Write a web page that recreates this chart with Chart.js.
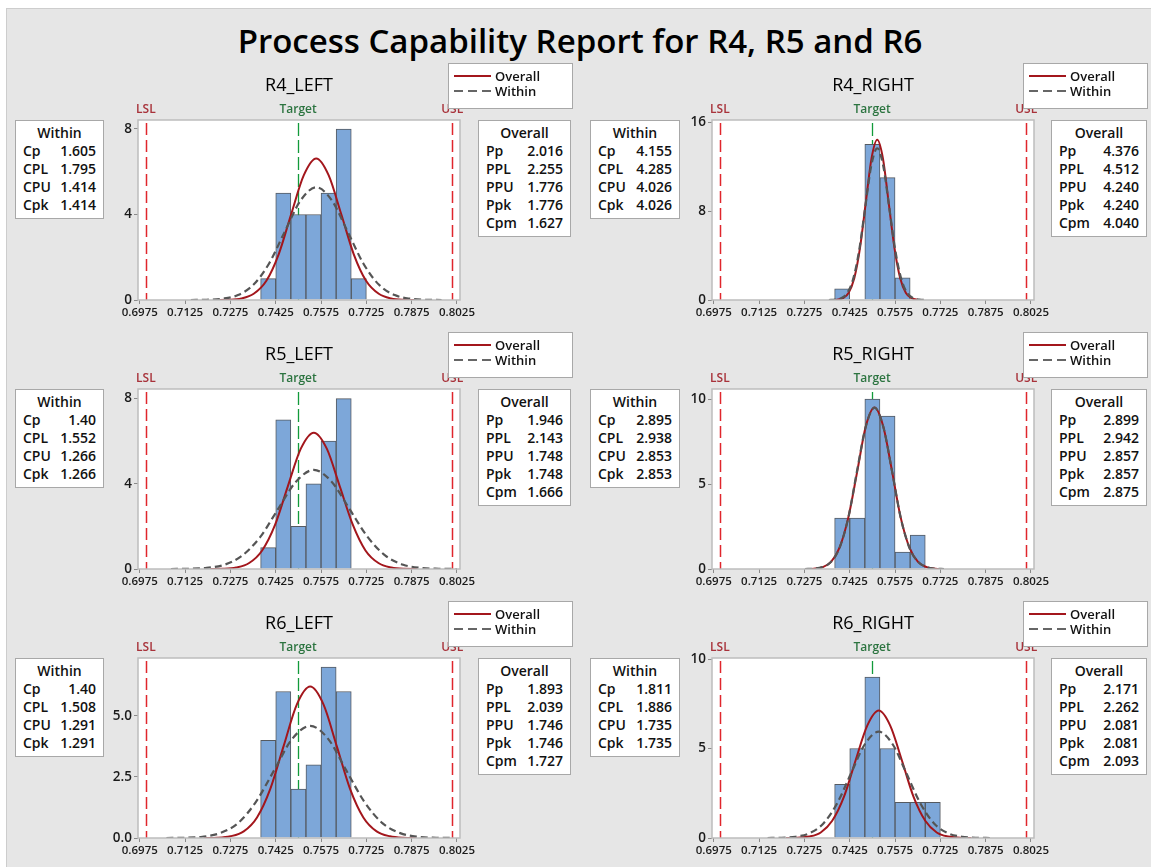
<!DOCTYPE html>
<html>
<head>
<meta charset="utf-8">
<title>Process Capability Report for R4, R5 and R6</title>
<script src="https://cdn.jsdelivr.net/npm/chart.js@4.4.1/dist/chart.umd.min.js"></script>
<style>
    body { margin: 0; width: 1151px; height: 867px; background: #fff; font-family: "Open Sans", sans-serif; overflow: hidden; position: relative; }
    #frame { position: absolute; left: 6px; top: 8px; width: 1145px; height: 859px; background: #e6e6e6; border-left: 1px solid #cdcdcd; border-top: 1px solid #cdcdcd; box-sizing: border-box; }
    #title { position: absolute; left: 0; top: 21px; width: 1160px; text-align: center; font-size: 33px; line-height: 40px; font-weight: 600; color: #000; }
    canvas { position: absolute; }
    .ptitle { position: absolute; width: 322px; text-align: center; font-size: 18px; line-height: 24px; color: #000; }
    .box { position: absolute; background: #fff; border: 1px solid #a8a8a8; box-sizing: border-box; padding: 3px 7px 4px 7px; font-size: 14px; font-weight: 600; line-height: 18px; color: #111; }
    .box .hd { text-align: center; }
    .box .row { display: flex; justify-content: space-between; }
    .legend { position: absolute; width: 125px; height: 46px; background: #fff; border: 1px solid #a8a8a8; box-sizing: border-box; font-size: 13px; font-weight: 600; color: #111; }
    .legend svg { position: absolute; left: 3px; top: 3px; }
    .legend span { position: absolute; left: 46px; line-height: 16px; }
</style>
</head>
<body>
<div id="frame"></div>
<div id="title">Process Capability Report for R4, R5 and R6</div>
<script>
// Histogram bins (bin centres, width 0.005)
const binCentres = [0.740, 0.745, 0.750, 0.755, 0.760, 0.765, 0.770];
const r4LeftCounts  = [1, 5, 4, 4, 5, 8, 1];
const r4RightCounts = [1, 0, 14, 11, 2, 0, 0];
const r5LeftCounts  = [1, 7, 2, 4, 6, 8, 0];
const r5RightCounts = [3, 3, 10, 9, 1, 2, 0];
const r6LeftCounts  = [4, 6, 2, 3, 7, 6, 0];
const r6RightCounts = [3, 5, 9, 5, 2, 2, 2];

// Fitted curves (x, frequency)
const r4LeftOverallX  = [0.7228, 0.7270, 0.7311, 0.7352, 0.7394, 0.7435, 0.7476, 0.7518, 0.7559, 0.7600, 0.7642, 0.7683, 0.7724, 0.7766, 0.7807, 0.7848, 0.7890];
const r4LeftOverallY  = [0.00, 0.01, 0.07, 0.29, 0.90, 2.15, 4.01, 5.84, 6.62, 5.84, 4.01, 2.15, 0.90, 0.29, 0.07, 0.01, 0.00];
const r4LeftWithinX   = [0.7144, 0.7196, 0.7248, 0.7300, 0.7351, 0.7403, 0.7455, 0.7507, 0.7559, 0.7611, 0.7663, 0.7715, 0.7767, 0.7819, 0.7870, 0.7922, 0.7974];
const r4LeftWithinY   = [0.00, 0.01, 0.06, 0.23, 0.71, 1.71, 3.20, 4.65, 5.27, 4.65, 3.20, 1.71, 0.71, 0.23, 0.06, 0.01, 0.00];
const r4RightOverallX = [0.7364, 0.7383, 0.7402, 0.7421, 0.7440, 0.7459, 0.7478, 0.7497, 0.7516, 0.7535, 0.7554, 0.7573, 0.7592, 0.7611, 0.7630, 0.7649, 0.7668];
const r4RightOverallY = [0.00, 0.03, 0.16, 0.63, 1.95, 4.68, 8.73, 12.71, 14.40, 12.71, 8.73, 4.68, 1.95, 0.63, 0.16, 0.03, 0.00];
const r4RightWithinX  = [0.7356, 0.7376, 0.7396, 0.7416, 0.7436, 0.7456, 0.7476, 0.7496, 0.7516, 0.7536, 0.7556, 0.7576, 0.7596, 0.7616, 0.7636, 0.7656, 0.7676];
const r4RightWithinY  = [0.00, 0.03, 0.15, 0.60, 1.85, 4.43, 8.27, 12.04, 13.64, 12.04, 8.27, 4.43, 1.85, 0.60, 0.15, 0.03, 0.00];
const r5LeftOverallX  = [0.7208, 0.7251, 0.7294, 0.7337, 0.7380, 0.7423, 0.7465, 0.7508, 0.7551, 0.7594, 0.7637, 0.7680, 0.7722, 0.7765, 0.7808, 0.7851, 0.7894];
const r5LeftOverallY  = [0.00, 0.01, 0.07, 0.28, 0.87, 2.08, 3.88, 5.65, 6.40, 5.65, 3.88, 2.08, 0.87, 0.28, 0.07, 0.01, 0.00];
const r5LeftWithinX   = [0.7078, 0.7137, 0.7196, 0.7255, 0.7314, 0.7374, 0.7433, 0.7492, 0.7551, 0.7610, 0.7669, 0.7729, 0.7788, 0.7847, 0.7906, 0.7965, 0.8024];
const r5LeftWithinY   = [0.00, 0.01, 0.05, 0.20, 0.63, 1.51, 2.82, 4.10, 4.65, 4.10, 2.82, 1.51, 0.63, 0.20, 0.05, 0.01, 0.00];
const r5RightOverallX = [0.7277, 0.7306, 0.7335, 0.7363, 0.7392, 0.7421, 0.7450, 0.7478, 0.7507, 0.7536, 0.7565, 0.7593, 0.7622, 0.7651, 0.7680, 0.7708, 0.7737];
const r5RightOverallY = [0.00, 0.02, 0.11, 0.42, 1.29, 3.08, 5.76, 8.38, 9.50, 8.38, 5.76, 3.08, 1.29, 0.42, 0.11, 0.02, 0.00];
const r5RightWithinX  = [0.7277, 0.7305, 0.7334, 0.7363, 0.7392, 0.7421, 0.7449, 0.7478, 0.7507, 0.7536, 0.7565, 0.7593, 0.7622, 0.7651, 0.7680, 0.7709, 0.7737];
const r5RightWithinY  = [0.00, 0.02, 0.11, 0.42, 1.28, 3.08, 5.76, 8.37, 9.49, 8.37, 5.76, 3.08, 1.28, 0.42, 0.11, 0.02, 0.00];
const r6LeftOverallX  = [0.7187, 0.7231, 0.7275, 0.7319, 0.7363, 0.7407, 0.7451, 0.7495, 0.7539, 0.7583, 0.7627, 0.7671, 0.7715, 0.7759, 0.7803, 0.7847, 0.7891];
const r6LeftOverallY  = [0.00, 0.01, 0.07, 0.27, 0.84, 2.01, 3.76, 5.47, 6.20, 5.47, 3.76, 2.01, 0.84, 0.27, 0.07, 0.01, 0.00];
const r6LeftWithinX   = [0.7063, 0.7122, 0.7182, 0.7241, 0.7301, 0.7360, 0.7420, 0.7479, 0.7539, 0.7599, 0.7658, 0.7718, 0.7777, 0.7837, 0.7896, 0.7956, 0.8015];
const r6LeftWithinY   = [0.00, 0.01, 0.05, 0.20, 0.62, 1.49, 2.78, 4.05, 4.59, 4.05, 2.78, 1.49, 0.62, 0.20, 0.05, 0.01, 0.00];
const r6RightOverallX = [0.7214, 0.7252, 0.7291, 0.7329, 0.7367, 0.7406, 0.7444, 0.7483, 0.7521, 0.7559, 0.7598, 0.7636, 0.7675, 0.7713, 0.7751, 0.7790, 0.7828];
const r6RightOverallY = [0.00, 0.02, 0.08, 0.31, 0.96, 2.31, 4.32, 6.28, 7.12, 6.28, 4.32, 2.31, 0.96, 0.31, 0.08, 0.02, 0.00];
const r6RightWithinX  = [0.7153, 0.7199, 0.7245, 0.7291, 0.7337, 0.7383, 0.7429, 0.7475, 0.7521, 0.7567, 0.7613, 0.7659, 0.7705, 0.7751, 0.7797, 0.7843, 0.7889];
const r6RightWithinY  = [0.00, 0.01, 0.07, 0.26, 0.80, 1.93, 3.60, 5.24, 5.94, 5.24, 3.60, 1.93, 0.80, 0.26, 0.07, 0.01, 0.00];

// Spec limits (positions) and axes
const LSL = 0.6995, TARGET = 0.7499, USL = 0.8009;
const xTicks = [0.6975, 0.7125, 0.7275, 0.7425, 0.7575, 0.7725, 0.7875, 0.8025];
const r4LeftYTicks  = [0, 4, 8];
const r4RightYTicks = [0, 8, 16];
const r5LeftYTicks  = [0, 4, 8];
const r5RightYTicks = [0, 5, 10];
const r6LeftYTicks  = [0, 2.5, 5];
const r6RightYTicks = [0, 5, 10];
const yMaxes = [8.42, 16.18, 8.45, 10.59, 7.37, 10.06];

// Capability statistics
const withinLabels  = ['Cp', 'CPL', 'CPU', 'Cpk'];
const overallLabels = ['Pp', 'PPL', 'PPU', 'Ppk', 'Cpm'];
const r4LeftWithin   = ['1.605', '1.795', '1.414', '1.414'];
const r4LeftOverall  = ['2.016', '2.255', '1.776', '1.776', '1.627'];
const r4RightWithin  = ['4.155', '4.285', '4.026', '4.026'];
const r4RightOverall = ['4.376', '4.512', '4.240', '4.240', '4.040'];
const r5LeftWithin   = ['1.40', '1.552', '1.266', '1.266'];
const r5LeftOverall  = ['1.946', '2.143', '1.748', '1.748', '1.666'];
const r5RightWithin  = ['2.895', '2.938', '2.853', '2.853'];
const r5RightOverall = ['2.899', '2.942', '2.857', '2.857', '2.875'];
const r6LeftWithin   = ['1.40', '1.508', '1.291', '1.291'];
const r6LeftOverall  = ['1.893', '2.039', '1.746', '1.746', '1.727'];
const r6RightWithin  = ['1.811', '1.886', '1.735', '1.735'];
const r6RightOverall = ['2.171', '2.262', '2.081', '2.081', '2.093'];

const panelNames = ['R4_LEFT', 'R4_RIGHT', 'R5_LEFT', 'R5_RIGHT', 'R6_LEFT', 'R6_RIGHT'];

// Layout
const X_MIN = 0.6969, X_MAX = 0.8035;
const PLOT_W = 322, PLOT_H = 180;
const PAD_L = 40, PAD_T = 30, PAD_R = 26, PAD_B = 26;
const colLeft = [138, 712];
const rowTop = [120, 389, 658];

const panels = [
    { counts: r4LeftCounts,  ox: r4LeftOverallX,  oy: r4LeftOverallY,  wx: r4LeftWithinX,  wy: r4LeftWithinY,  yTicks: r4LeftYTicks,  dec: 0, within: r4LeftWithin,  overall: r4LeftOverall },
    { counts: r4RightCounts, ox: r4RightOverallX, oy: r4RightOverallY, wx: r4RightWithinX, wy: r4RightWithinY, yTicks: r4RightYTicks, dec: 0, within: r4RightWithin, overall: r4RightOverall },
    { counts: r5LeftCounts,  ox: r5LeftOverallX,  oy: r5LeftOverallY,  wx: r5LeftWithinX,  wy: r5LeftWithinY,  yTicks: r5LeftYTicks,  dec: 0, within: r5LeftWithin,  overall: r5LeftOverall },
    { counts: r5RightCounts, ox: r5RightOverallX, oy: r5RightOverallY, wx: r5RightWithinX, wy: r5RightWithinY, yTicks: r5RightYTicks, dec: 0, within: r5RightWithin, overall: r5RightOverall },
    { counts: r6LeftCounts,  ox: r6LeftOverallX,  oy: r6LeftOverallY,  wx: r6LeftWithinX,  wy: r6LeftWithinY,  yTicks: r6LeftYTicks,  dec: 1, within: r6LeftWithin,  overall: r6LeftOverall },
    { counts: r6RightCounts, ox: r6RightOverallX, oy: r6RightOverallY, wx: r6RightWithinX, wy: r6RightWithinY, yTicks: r6RightYTicks, dec: 0, within: r6RightWithin, overall: r6RightOverall }
];

const specPlugin = {
    id: 'spec',
    beforeDraw(chart) {
        const a = chart.chartArea, ctx = chart.ctx;
        ctx.save();
        ctx.fillStyle = '#ffffff';
        ctx.fillRect(a.left, a.top, a.right - a.left, a.bottom - a.top);
        ctx.restore();
    },
    beforeDatasetsDraw(chart) {
        const a = chart.chartArea, ctx = chart.ctx, x = chart.scales.x;
        ctx.save();
        ctx.lineWidth = 1.5;
        ctx.strokeStyle = '#e0262c';
        ctx.setLineDash([12, 5]);
        [LSL, USL].forEach(v => {
            const px = Math.round(x.getPixelForValue(v)) + 0.5;
            ctx.beginPath();
            ctx.moveTo(px, a.top + 3);
            ctx.lineTo(px, a.bottom);
            ctx.stroke();
        });
        ctx.strokeStyle = '#129a3a';
        ctx.lineWidth = 1.3;
        ctx.setLineDash([13, 4]);
        const tx = Math.round(x.getPixelForValue(TARGET)) + 0.5;
        ctx.beginPath();
        ctx.moveTo(tx, a.top + 3);
        ctx.lineTo(tx, a.bottom);
        ctx.stroke();
        ctx.restore();
    },
    afterDatasetsDraw(chart) {
        const a = chart.chartArea, ctx = chart.ctx;
        ctx.save();
        ctx.strokeStyle = '#bdbdbd';
        ctx.lineWidth = 1.5;
        ctx.strokeRect(a.left, a.top, a.right - a.left, a.bottom - a.top);
        ctx.restore();
    },
    afterDraw(chart) {
        const a = chart.chartArea, ctx = chart.ctx, x = chart.scales.x;
        ctx.save();
        ctx.font = '600 12px "Open Sans"';
        ctx.textAlign = 'center';
        ctx.textBaseline = 'middle';
        ctx.fillStyle = '#a8323a';
        ctx.fillText('LSL', x.getPixelForValue(LSL), a.top - 10);
        ctx.fillText('USL', x.getPixelForValue(USL), a.top - 10);
        ctx.fillStyle = '#2c7440';
        ctx.fillText('Target', x.getPixelForValue(TARGET), a.top - 10);
        ctx.restore();
    }
};

function addDiv(cls, left, top, width, html) {
    const d = document.createElement('div');
    d.className = cls;
    d.style.left = left + 'px';
    d.style.top = top + 'px';
    if (width) d.style.width = width + 'px';
    d.innerHTML = html;
    document.body.appendChild(d);
    return d;
}

function statBox(title, labels, values) {
    let html = '<div class="hd">' + title + '</div>';
    labels.forEach((l, i) => {
        html += '<div class="row"><span>' + l + '</span><span>' + values[i] + '</span></div>';
    });
    return html;
}

function makePanel(p, idx) {
    const col = idx % 2, row = Math.floor(idx / 2);
    const left = colLeft[col], top = rowTop[row];

    const cv = document.createElement('canvas');
    cv.width = PLOT_W + PAD_L + PAD_R;
    cv.height = PLOT_H + PAD_T + PAD_B;
    cv.style.left = (left - PAD_L) + 'px';
    cv.style.top = (top - PAD_T) + 'px';
    document.body.appendChild(cv);

    new Chart(cv, {
        type: 'bar',
        data: {
            datasets: [
                {
                    type: 'bar',
                    data: binCentres.map((x, i) => ({ x: x, y: p.counts[i] })),
                    backgroundColor: '#7da7d9',
                    borderColor: '#555a60',
                    borderWidth: 1,
                    barPercentage: 1,
                    categoryPercentage: 1,
                    order: 2
                },
                {
                    type: 'line',
                    data: p.ox.map((x, i) => ({ x: x, y: p.oy[i] })),
                    borderColor: '#a3161c',
                    borderWidth: 2,
                    pointRadius: 0,
                    cubicInterpolationMode: 'monotone',
                    order: 1
                },
                {
                    type: 'line',
                    data: p.wx.map((x, i) => ({ x: x, y: p.wy[i] })),
                    borderColor: '#555555',
                    borderWidth: 2.2,
                    borderDash: [7, 4],
                    pointRadius: 0,
                    cubicInterpolationMode: 'monotone',
                    order: 0
                }
            ]
        },
        options: {
            responsive: false,
            animation: false,
            events: [],
            layout: { padding: { left: 0, top: PAD_T, right: PAD_R, bottom: 0 } },
            plugins: { legend: { display: false }, tooltip: { enabled: false } },
            scales: {
                x: {
                    type: 'linear',
                    min: X_MIN,
                    max: X_MAX,
                    offset: false,
                    afterBuildTicks: s => { s.ticks = xTicks.map(v => ({ value: v })); },
                    afterFit: s => { s.height = PAD_B; },
                    grid: { drawOnChartArea: false, offset: false, tickLength: 4, color: '#8a8a8a' },
                    border: { display: false },
                    ticks: {
                        autoSkip: false,
                        maxRotation: 0,
                        padding: 2,
                        color: '#1a1a1a',
                        font: { family: 'Open Sans', size: 11.5, weight: 600 },
                        callback: v => Number(v).toFixed(4)
                    }
                },
                y: {
                    min: 0,
                    max: yMaxes[idx],
                    afterBuildTicks: s => { s.ticks = p.yTicks.map(v => ({ value: v })); },
                    afterFit: s => { s.width = PAD_L; },
                    grid: { drawOnChartArea: false, tickLength: 4, color: '#8a8a8a' },
                    border: { display: false },
                    ticks: {
                        padding: 2,
                        color: '#1a1a1a',
                        font: { family: 'Open Sans', size: 13.5, weight: 600 },
                        callback: v => Number(v).toFixed(p.dec)
                    }
                }
            }
        },
        plugins: [specPlugin]
    });

    // panel title
    addDiv('ptitle', left, top - 48, PLOT_W, panelNames[idx]);

    // legend box
    const lg = addDiv('legend', col === 0 ? 448 : 1023, top - 57, 0,
        '<svg width="42" height="36">' +
        '<line x1="2" y1="9" x2="39" y2="9" stroke="#a3161c" stroke-width="2"/>' +
        '<line x1="2" y1="24" x2="39" y2="24" stroke="#666" stroke-width="2" stroke-dasharray="9,5"/>' +
        '</svg><span style="top:4px">Overall</span><span style="top:19px">Within</span>');
    lg.style.width = '';

    // stats boxes
    addDiv('box', col === 0 ? 15 : 590, top, col === 0 ? 89 : 90, statBox('Within', withinLabels, p.within));
    addDiv('box', col === 0 ? 478 : 1051, top, col === 0 ? 93 : 96, statBox('Overall', overallLabels, p.overall));
}

panels.forEach(makePanel);
</script>
</body>
</html>
